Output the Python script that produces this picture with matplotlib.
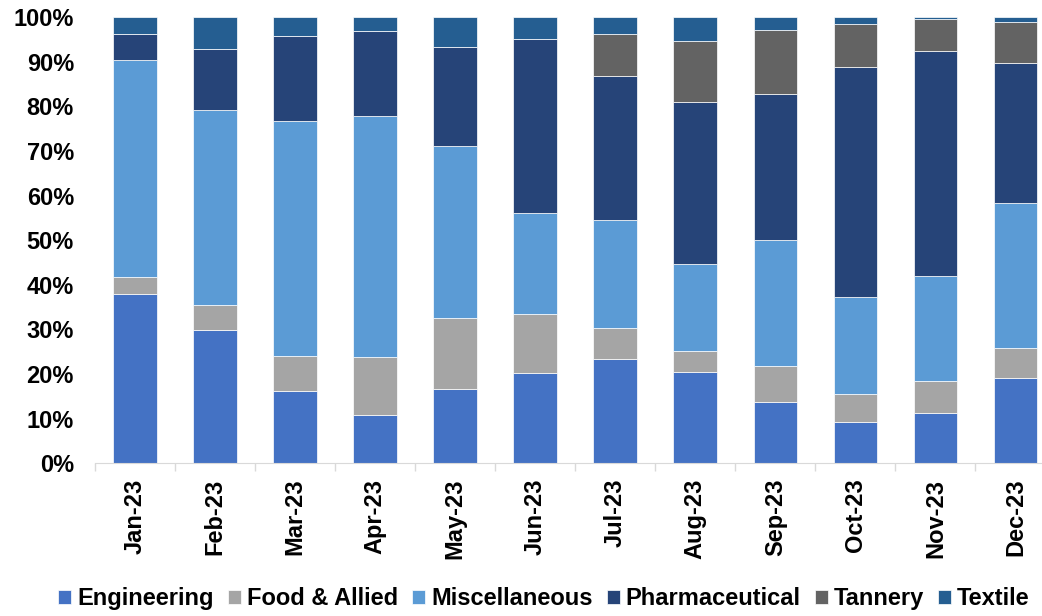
import numpy as np
import matplotlib.pyplot as plt
from matplotlib.ticker import PercentFormatter, FixedLocator

plt.rcParams['font.family'] = ['Liberation Sans', 'DejaVu Sans']
plt.rcParams['font.weight'] = 'bold'

months = ["Jan-23", "Feb-23", "Mar-23", "Apr-23", "May-23", "Jun-23",
          "Jul-23", "Aug-23", "Sep-23", "Oct-23", "Nov-23", "Dec-23"]

# shares in percent
engineering = [37.9, 29.9, 16.1, 10.9, 16.7, 20.3, 23.4, 20.5, 13.8, 9.2, 11.2, 19.2]
food_allied = [3.8, 5.6, 8.0, 13.0, 15.9, 13.2, 7.0, 4.7, 7.9, 6.4, 7.3, 6.7]
miscellaneous = [48.7, 43.7, 52.7, 54.0, 38.6, 22.7, 24.1, 19.4, 28.3, 21.7, 23.5, 32.4]
pharmaceutical = [5.8, 13.7, 19.0, 19.0, 22.1, 38.9, 32.3, 36.4, 32.8, 51.5, 50.4, 31.4]
tannery = [0.0, 0.0, 0.0, 0.0, 0.0, 0.0, 9.4, 13.6, 14.3, 9.6, 7.2, 9.2]
textile = [3.8, 7.1, 4.2, 3.1, 6.7, 4.9, 3.8, 5.4, 2.9, 1.6, 0.4, 1.1]

series = [("Engineering", engineering, "#4472C4"),
          ("Food & Allied", food_allied, "#A5A5A5"),
          ("Miscellaneous", miscellaneous, "#5B9BD5"),
          ("Pharmaceutical", pharmaceutical, "#264478"),
          ("Tannery", tannery, "#636363"),
          ("Textile", textile, "#255E91")]

fig = plt.figure(figsize=(10.42, 6.16), dpi=100)
ax = fig.add_axes([0.091, 0.248, 0.922, 0.724])

x = np.arange(len(months))
bottom = np.zeros(len(months))
for name, vals, color in series:
    vals = np.array(vals)
    ax.bar(x, vals, 0.545, bottom=bottom, color=color, label=name,
           edgecolor="white", linewidth=0.5)
    bottom += vals

ax.set_xlim(-0.5, len(months) - 0.5)
ax.set_ylim(0, 100)
ax.set_yticks(np.arange(0, 101, 10))
ax.yaxis.set_major_formatter(PercentFormatter(decimals=0))
ax.tick_params(axis="y", length=0, labelsize=17, pad=15)

ax.set_xticks(x)
ax.set_xticklabels(months, rotation=90)
ax.tick_params(axis="x", which="major", length=0, labelsize=17, pad=11)
ax.xaxis.set_minor_locator(FixedLocator(np.arange(-0.5, len(months), 1)))
ax.tick_params(axis="x", which="minor", length=6, color="#D9D9D9", width=1)

for s in ["top", "right", "left"]:
    ax.spines[s].set_visible(False)
ax.spines["bottom"].set_color("#D9D9D9")

fig.legend(loc="center", bbox_to_anchor=(0.522, 0.028), ncol=6, frameon=False,
           fontsize=17, handlelength=0.55, handleheight=0.55,
           handletextpad=0.25, columnspacing=0.6)

fig.savefig("out.png", dpi=100)
